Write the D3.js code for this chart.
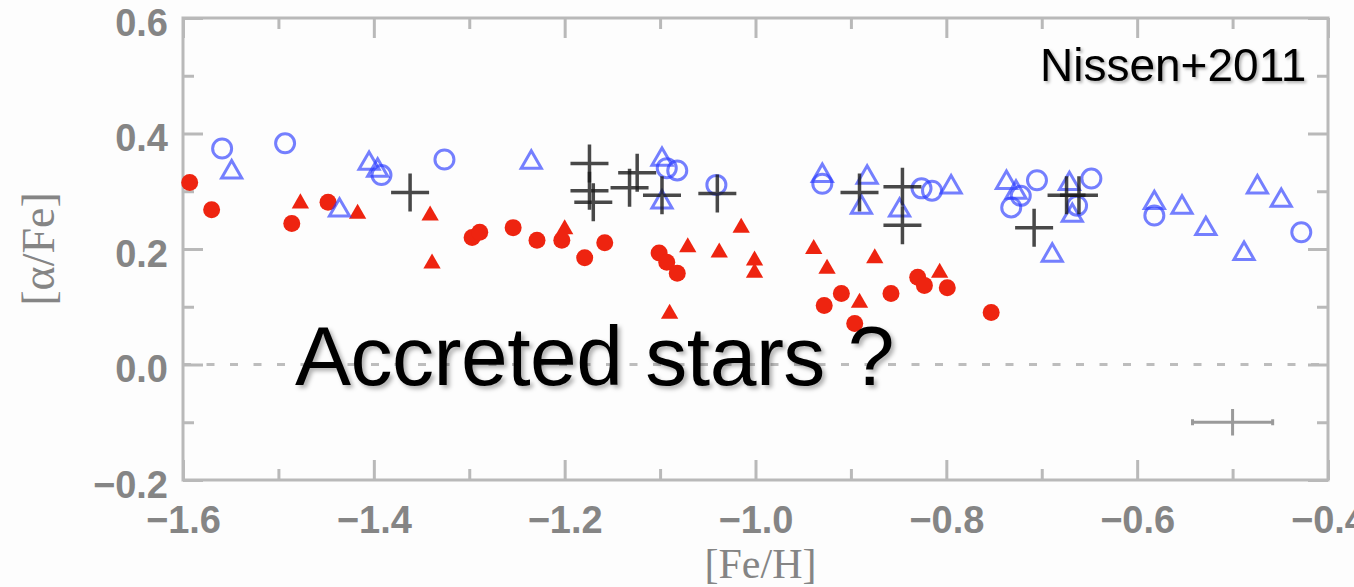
<!DOCTYPE html>
<html>
<head>
<meta charset="utf-8">
<script src="https://cdn.jsdelivr.net/npm/d3@7"></script>
<style>
  html, body { margin: 0; padding: 0; background: #fdfdfd; }
  svg { display: block; }
</style>
</head>
<body>
<svg id="chart" width="1354" height="587"></svg>
<script>
// [Fe/H], [α/Fe] pairs for each stellar population
const lowAlphaCircles = [
  [-1.593, 0.315], [-1.570, 0.268], [-1.486, 0.244], [-1.448, 0.281],
  [-1.297, 0.220], [-1.289, 0.229], [-1.254, 0.237], [-1.229, 0.215],
  [-1.203, 0.215], [-1.179, 0.185], [-1.158, 0.211], [-1.101, 0.193],
  [-1.093, 0.177], [-1.082, 0.158], [-0.928, 0.102], [-0.910, 0.123],
  [-0.896, 0.071], [-0.858, 0.123], [-0.830, 0.151], [-0.823, 0.137],
  [-0.799, 0.133], [-0.753, 0.090]
];
const lowAlphaTriangles = [
  [-1.477, 0.279], [-1.417, 0.261], [-1.341, 0.258], [-1.339, 0.175],
  [-1.200, 0.234], [-1.090, 0.088], [-1.071, 0.203], [-1.038, 0.194],
  [-1.015, 0.237], [-1.001, 0.180], [-1.001, 0.159], [-0.939, 0.200],
  [-0.925, 0.166], [-0.891, 0.107], [-0.875, 0.184], [-0.807, 0.159]
];
const highAlphaCircles = [
  [-1.559, 0.374], [-1.493, 0.383], [-1.392, 0.328], [-1.326, 0.355],
  [-1.093, 0.340], [-1.082, 0.336], [-1.041, 0.311], [-0.930, 0.313],
  [-0.826, 0.305], [-0.815, 0.301], [-0.732, 0.272], [-0.722, 0.292],
  [-0.705, 0.319], [-0.663, 0.275], [-0.648, 0.322], [-0.582, 0.258],
  [-0.428, 0.229]
];
const highAlphaTriangles = [
  [-1.549, 0.333], [-1.436, 0.267], [-1.405, 0.348], [-1.396, 0.336],
  [-1.235, 0.350], [-1.098, 0.355], [-1.098, 0.281], [-0.930, 0.327],
  [-0.883, 0.324], [-0.889, 0.272], [-0.849, 0.267], [-0.795, 0.307],
  [-0.737, 0.315], [-0.727, 0.298], [-0.689, 0.189], [-0.671, 0.313],
  [-0.668, 0.258], [-0.582, 0.280], [-0.553, 0.272], [-0.528, 0.235],
  [-0.488, 0.192], [-0.474, 0.307], [-0.449, 0.284]
];
const thickDisk = [
  [-1.362, 0.298], [-1.174, 0.348], [-1.174, 0.301], [-1.170, 0.281],
  [-1.124, 0.332], [-1.132, 0.306], [-1.098, 0.293], [-1.040, 0.296],
  [-0.891, 0.298], [-0.846, 0.308], [-0.846, 0.241], [-0.708, 0.237],
  [-0.674, 0.293], [-0.661, 0.293]
];
// typical error bar: [Fe/H], [α/Fe], σ[Fe/H], σ[α/Fe]
const typicalError = [-0.50, -0.10, 0.042, 0.023];

const xMajorTicks = [-1.6, -1.4, -1.2, -1.0, -0.8, -0.6, -0.4];
const xMinorTicks = [-1.5, -1.3, -1.1, -0.9, -0.7, -0.5];
const yMajorTicks = [-0.2, 0.0, 0.2, 0.4, 0.6];
const yMinorTicks = [-0.1, 0.1, 0.3, 0.5];

const svg = d3.select("#chart");
const plotLeft = 183, plotRight = 1328, plotTop = 18, plotBottom = 480;

const x = d3.scaleLinear().domain([-1.6, -0.4]).range([plotLeft, plotRight]);
const y = d3.scaleLinear().domain([-0.2, 0.6]).range([plotBottom, plotTop]);
const fmt = d3.format(".1f");

const frameColor = "#b9b9b9";
const labelColor = "#858585";

// zero reference line
svg.append("line")
  .attr("x1", x(-1.6)).attr("x2", x(-0.4))
  .attr("y1", y(0)).attr("y2", y(0))
  .attr("stroke", "#bdbdbd").attr("stroke-width", 3)
  .attr("stroke-dasharray", "8,15.5");

function styleAxis(g) {
  g.select(".domain").remove();
  g.selectAll(".tick line").attr("stroke", frameColor).attr("stroke-width", 3);
  g.selectAll(".tick text")
    .attr("fill", labelColor)
    .style("font-family", "'Liberation Sans', Arial, sans-serif")
    .style("font-weight", "bold")
    .style("font-size", "38px");
}

// major and minor ticks on all four sides, pointing inward
svg.append("g").attr("transform", `translate(0,${plotBottom})`)
  .call(d3.axisBottom(x).tickValues(xMajorTicks).tickSize(-20).tickPadding(26).tickFormat(fmt))
  .call(styleAxis);
svg.append("g").attr("transform", `translate(0,${plotBottom})`)
  .call(d3.axisBottom(x).tickValues(xMinorTicks).tickSize(-11).tickFormat(""))
  .call(styleAxis);
svg.append("g").attr("transform", `translate(0,${plotTop})`)
  .call(d3.axisTop(x).tickValues(xMajorTicks).tickSize(-20).tickFormat(""))
  .call(styleAxis);
svg.append("g").attr("transform", `translate(0,${plotTop})`)
  .call(d3.axisTop(x).tickValues(xMinorTicks).tickSize(-11).tickFormat(""))
  .call(styleAxis);
svg.append("g").attr("transform", `translate(${plotLeft},0)`)
  .call(d3.axisLeft(y).tickValues(yMajorTicks).tickSize(-20).tickPadding(15).tickFormat(fmt))
  .call(styleAxis)
  .call(g => g.selectAll(".tick text").attr("dy", "0.45em"));
svg.append("g").attr("transform", `translate(${plotLeft},0)`)
  .call(d3.axisLeft(y).tickValues(yMinorTicks).tickSize(-11).tickFormat(""))
  .call(styleAxis);
svg.append("g").attr("transform", `translate(${plotRight},0)`)
  .call(d3.axisRight(y).tickValues(yMajorTicks).tickSize(-20).tickFormat(""))
  .call(styleAxis);
svg.append("g").attr("transform", `translate(${plotRight},0)`)
  .call(d3.axisRight(y).tickValues(yMinorTicks).tickSize(-11).tickFormat(""))
  .call(styleAxis);

// plot frame
svg.append("rect")
  .attr("x", plotLeft).attr("y", plotTop)
  .attr("width", plotRight - plotLeft).attr("height", plotBottom - plotTop)
  .attr("fill", "none").attr("stroke", frameColor).attr("stroke-width", 3);

// axis titles
svg.append("text")
  .attr("x", (x(-1.6) + x(-0.4)) / 2 + 5).attr("y", 578)
  .attr("text-anchor", "middle")
  .attr("fill", labelColor)
  .style("font-family", "'Liberation Serif', 'Times New Roman', serif")
  .style("font-size", "42px")
  .text("[Fe/H]");
svg.append("text")
  .attr("transform", `translate(54,${y(0.2)}) rotate(-90)`)
  .attr("text-anchor", "middle")
  .attr("fill", labelColor)
  .style("font-family", "'Liberation Serif', 'Times New Roman', serif")
  .style("font-size", "46px")
  .text("[α/Fe]");

const markers = svg.append("g").style("filter", "blur(0.6px)");

// low-α stars
markers.append("g").selectAll("circle").data(lowAlphaCircles).join("circle")
  .attr("cx", d => x(d[0])).attr("cy", d => y(d[1])).attr("r", 8.5)
  .attr("fill", "#ee2410");
const triRed = d3.symbol().type(d3.symbolTriangle).size(130);
markers.append("g").selectAll("path").data(lowAlphaTriangles).join("path")
  .attr("d", triRed)
  .attr("transform", d => `translate(${x(d[0])},${y(d[1])})`)
  .attr("fill", "#ee2410");

// high-α stars
markers.append("g").selectAll("circle").data(highAlphaCircles).join("circle")
  .attr("cx", d => x(d[0])).attr("cy", d => y(d[1])).attr("r", 9.5)
  .attr("fill", "none").attr("stroke", "#2b3cff").attr("stroke-opacity", 0.65)
  .attr("stroke-width", 3);
const triBlue = d3.symbol().type(d3.symbolTriangle).size(175);
markers.append("g").selectAll("path").data(highAlphaTriangles).join("path")
  .attr("d", triBlue)
  .attr("transform", d => `translate(${x(d[0])},${y(d[1])})`)
  .attr("fill", "none").attr("stroke", "#2b3cff").attr("stroke-opacity", 0.65)
  .attr("stroke-width", 3);

// thick-disk stars
const arm = 19;
markers.append("g").selectAll("path").data(thickDisk).join("path")
  .attr("d", d => {
    const cx = x(d[0]), cy = y(d[1]);
    return `M${cx - arm},${cy}H${cx + arm}M${cx},${cy - arm}V${cy + arm}`;
  })
  .attr("stroke", "#1a1a1a").attr("stroke-opacity", 0.8).attr("stroke-width", 3.5)
  .attr("fill", "none");

// typical uncertainty
const [ex, ey, sx, sy] = typicalError;
svg.append("path")
  .attr("d", `M${x(ex - sx)},${y(ey)}H${x(ex + sx)}M${x(ex)},${y(ey + sy)}V${y(ey - sy)}` +
             `M${x(ex - sx)},${y(ey) - 3}V${y(ey) + 3}M${x(ex + sx)},${y(ey) - 3}V${y(ey) + 3}`)
  .attr("stroke", "#9a9a9a").attr("stroke-width", 3).attr("fill", "none");

// annotations
svg.append("text")
  .attr("x", 1040).attr("y", 81)
  .style("font-family", "'Liberation Sans', Arial, sans-serif")
  .style("font-size", "46px")
  .style("filter", "drop-shadow(2px 2px 1.5px rgba(0,0,0,0.3))")
  .attr("fill", "#000")
  .text("Nissen+2011");
svg.append("text")
  .attr("x", 295).attr("y", 385)
  .style("font-family", "'Liberation Sans', Arial, sans-serif")
  .style("font-size", "84px")
  .style("letter-spacing", "-0.5px")
  .style("filter", "drop-shadow(3px 3px 2px rgba(0,0,0,0.3))")
  .attr("fill", "#000")
  .text("Accreted stars ?");
</script>
</body>
</html>
